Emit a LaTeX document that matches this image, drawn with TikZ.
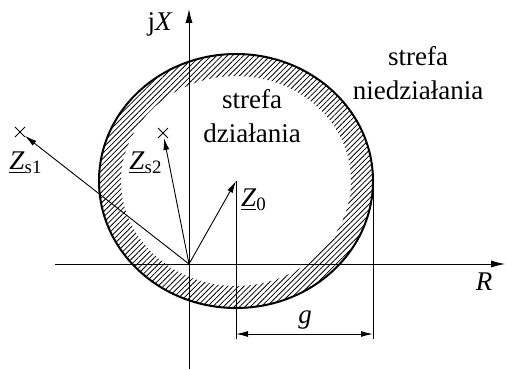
\documentclass[tikz,border=0pt]{standalone}
\usepackage{fontspec}
\setmainfont{Liberation Serif}
\usetikzlibrary{arrows.meta, patterns.meta, shapes.misc, positioning}

\tikzset{
  axis/.style={line width=0.5pt, -{Latex[length=7pt,width=3.6pt]}},
  vec/.style={line width=0.45pt, -{Latex[length=6pt,width=3pt]}},
  dim/.style={line width=0.5pt, {Latex[length=6pt,width=3pt]}-{Latex[length=6pt,width=3pt]}},
  pomiar/.style={cross out, draw, line width=0.45pt, minimum size=4.5pt, inner sep=0pt},
  lbl/.style={font=\fontsize{13.5}{17}\selectfont, inner sep=1pt, align=center},
}

\begin{document}
\begin{tikzpicture}[x=0.5pt, y=0.5pt]

\useasboundingbox (-189,-105) rectangle (317,264);

\coordinate (O) at (0,0);
\coordinate (C) at (47,83);

% strefa zakreskowana
\fill[pattern={Lines[angle=45,distance=1.9pt,line width=0.4pt]}, even odd rule]
  (C) ellipse [x radius=137, y radius=127]
  (C) ellipse [x radius=115, y radius=105];
\draw[line width=1pt] (C) ellipse [x radius=137, y radius=127];

% osie
\coordinate (xa) at (-134,0);
\coordinate (xb) at (316,0);
\coordinate (ya) at (0,-105);
\coordinate (yb) at (0,255);
\draw[axis] (xa)--(xb);
\draw[axis] (ya)--(yb);

\node[lbl] (jX) at (-29,240) {j\textit{X}};
\node[lbl] (R) at (295,-18) {\textit{R}};

% impedancje
\node[pomiar] (s1) at (-169,132) {};
\node[pomiar] (s2) at (-26,131) {};

\draw[vec] (O)--(s1);
\draw[vec] (O)--(s2);
\draw[vec] (O)--(C);

\node[lbl] (Zs1) at (-163,101) {\underline{\textit{Z}}\textsubscript{s1}};
\node[lbl] (Zs2) at (-43,101) {\underline{\textit{Z}}\textsubscript{s2}};
\node[lbl] (Z0) at (65,64) {\underline{\textit{Z}}\textsubscript{0}};

% wymiar g
\coordinate (Cr) at (184,83);
\coordinate (g1) at (47,-75);
\coordinate (g2) at (184,-75);
\coordinate (d1) at (47,-70);
\coordinate (d2) at (184,-70);

\draw[line width=0.5pt] (C)--(g1);
\draw[line width=0.5pt] (Cr)--(g2);
\draw[dim] (d1)--(d2);
\node[lbl] (g) at (116,-56) {\textit{g}};

% opisy stref
\node[lbl] (dz) at (63,148) {strefa\\działania};
\node[lbl] (ndz) at (229,191) {strefa\\niedziałania};

\end{tikzpicture}
\end{document}
